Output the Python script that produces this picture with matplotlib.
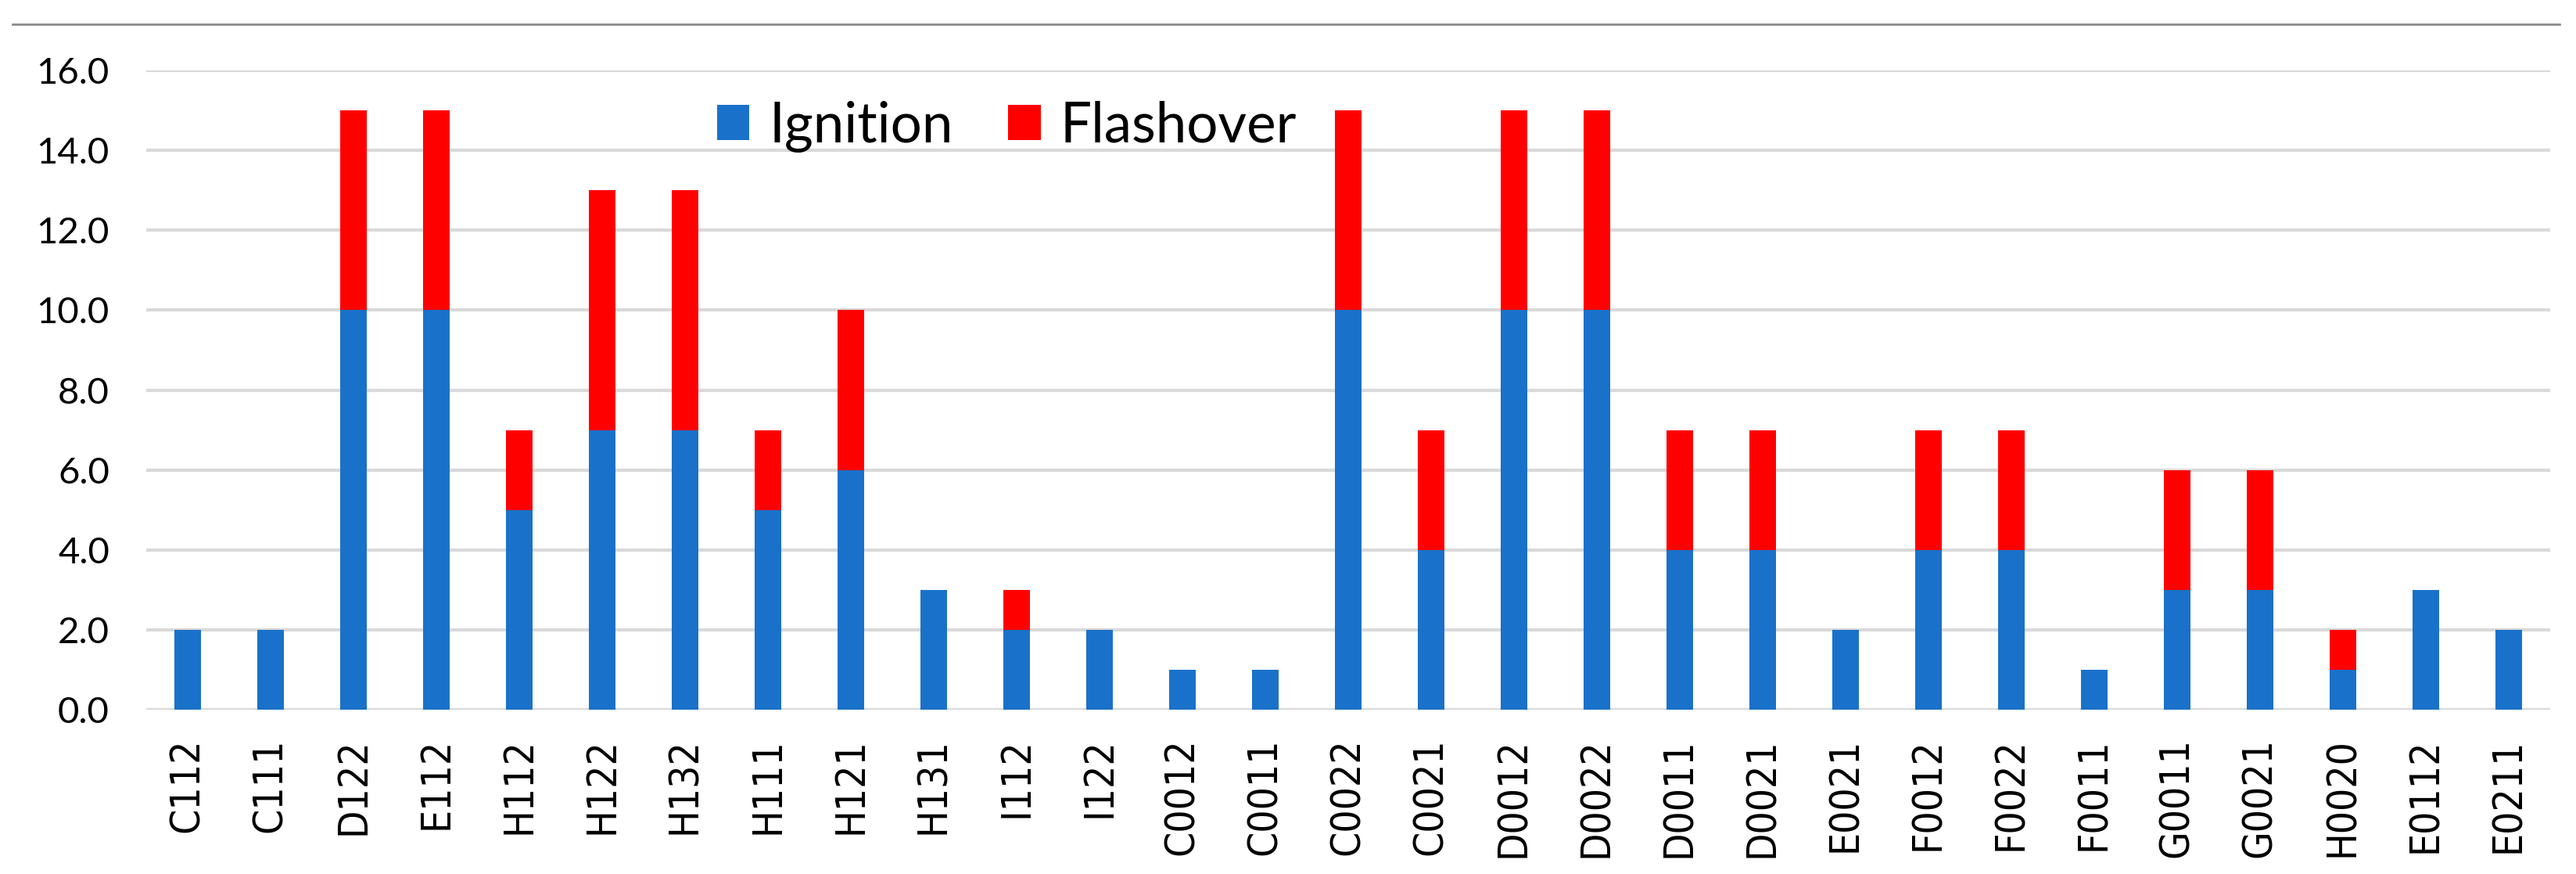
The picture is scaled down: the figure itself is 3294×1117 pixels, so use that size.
import matplotlib.pyplot as plt
from matplotlib.lines import Line2D
import numpy as np

# test names and event counts
tests = ['C112', 'C111', 'D122', 'E112', 'H112', 'H122', 'H132', 'H111', 'H121',
         'H131', 'I112', 'I122', 'C0012', 'C0011', 'C0022', 'C0021', 'D0012',
         'D0022', 'D0011', 'D0021', 'E0021', 'F0012', 'F0022', 'F0011', 'G0011',
         'G0021', 'H0020', 'E0112', 'E0211']
ignition = [2, 2, 10, 10, 5, 7, 7, 5, 6, 3, 2, 2, 1, 1, 10, 4, 10, 10, 4, 4,
            2, 4, 4, 1, 3, 3, 1, 3, 2]
flashover = [0, 0, 5, 5, 2, 6, 6, 2, 4, 0, 1, 0, 0, 0, 5, 3, 5, 5, 3, 3,
             0, 3, 3, 0, 3, 3, 1, 0, 0]
y_ticks = [0, 2, 4, 6, 8, 10, 12, 14, 16]

blue = '#1A71C9'
red = '#FF0000'

fig = plt.figure(figsize=(32.94, 11.17), dpi=100)
ax = fig.add_axes([0.0568, 0.188, 0.9332, 0.7314])

x = np.arange(len(tests))
ax.bar(x, ignition, width=0.32, color=blue, label='Ignition', zorder=3)
ax.bar(x, flashover, width=0.32, bottom=ignition, color=red, label='Flashover', zorder=3)

ax.set_xlim(-0.5, len(tests) - 0.5)
ax.set_ylim(0, 16)
ax.set_yticks(y_ticks)
ax.set_yticklabels([f'{v:.1f}' for v in y_ticks], fontsize=34, family='Lato')
ax.set_xticks(x)
ax.set_xticklabels(tests, rotation=90, fontsize=37, family='DejaVu Sans',
                   fontstretch='condensed')
ax.tick_params(axis='y', length=0, pad=34)
ax.tick_params(axis='x', length=0, pad=26)
ax.yaxis.grid(True, color='#D9D9D9', linewidth=3, zorder=0)
ax.set_axisbelow(True)
for s in ax.spines.values():
    s.set_visible(False)

leg = ax.legend(loc='center', bbox_to_anchor=(0.358, 0.912), ncol=2, frameon=False,
                prop={'family': 'Lato', 'size': 51}, handlelength=0.58,
                handleheight=0.6, handletextpad=0.35, columnspacing=1.0)

# thin border line across the top of the picture
fig.add_artist(Line2D([0.005, 0.9936], [0.972, 0.972], color='#8C8C8C', linewidth=2))

plt.savefig('out.png', dpi=100)
